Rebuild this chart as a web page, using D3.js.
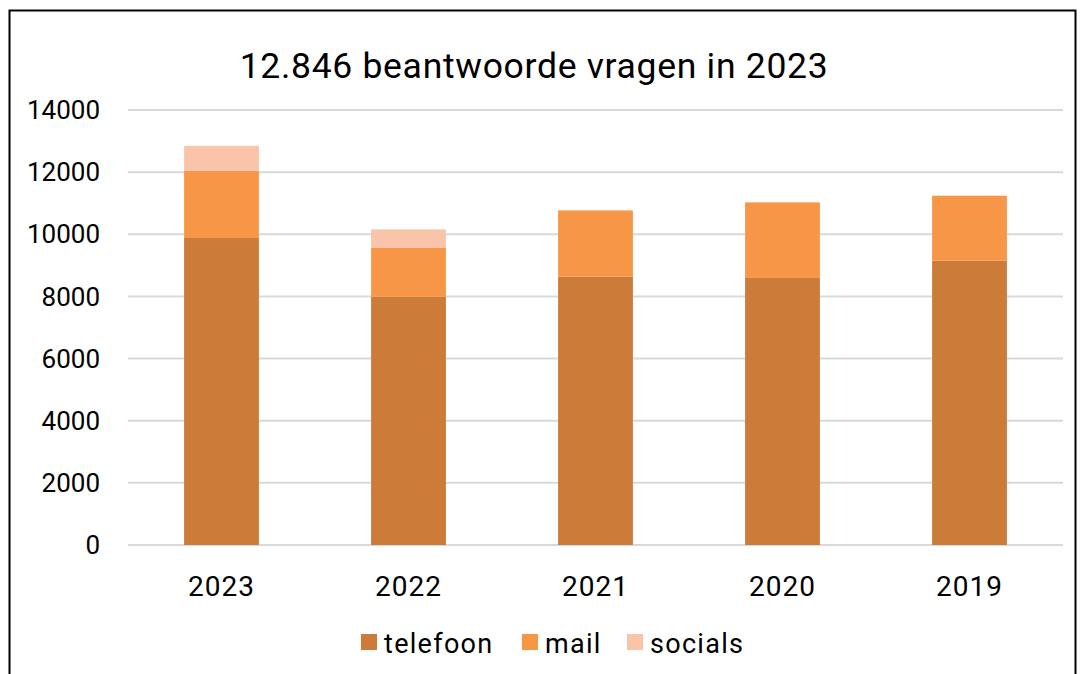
<!DOCTYPE html>
<html>
<head>
<meta charset="utf-8">
<script src="https://cdn.jsdelivr.net/npm/d3@7"></script>
<style>
  body { margin: 0; background: #fff; }
  svg { display: block; font-family: Roboto, "DejaVu Sans", sans-serif; }
</style>
</head>
<body>
<div class="container"></div>
<script>
// data
const years = ["2023", "2022", "2021", "2020", "2019"];
const telefoon = [9880, 7995, 8638, 8594, 9152];
const mail = [2155, 1563, 2131, 2433, 2090];
const socials = [811, 600, 0, 0, 0];
const seriesNames = ["telefoon", "mail", "socials"];
const seriesColors = ["#CC7B38", "#F79646", "#F9C4AA"];
const yTicks = [0, 2000, 4000, 6000, 8000, 10000, 12000, 14000];
const title = "12.846 beantwoorde vragen in 2023";

const width = 1080;
const height = 674;
const margin = { left: 128, right: 17, top: 110, bottom: 129 };

const svg = d3.select(".container")
  .append("svg")
  .attr("width", width)
  .attr("height", height);

// frame
svg.append("rect")
  .attr("x", 9.5)
  .attr("y", 10.5)
  .attr("width", 1066)
  .attr("height", 700)
  .attr("fill", "none")
  .attr("stroke", "#000")
  .attr("stroke-width", 2);

//scale
const x = d3.scaleBand()
  .domain(years)
  .range([margin.left, width - margin.right])
  .paddingInner(0.6)
  .paddingOuter(0.3);

const y = d3.scaleLinear()
  .domain([0, 14000])
  .range([height - margin.bottom, margin.top]);

// grid
svg.append("g")
  .selectAll("line")
  .data(yTicks)
  .join("line")
  .attr("x1", margin.left)
  .attr("x2", width - margin.right)
  .attr("y1", (d) => y(d))
  .attr("y2", (d) => y(d))
  .attr("stroke", "#d9d9d9")
  .attr("stroke-width", 2);

// y labels
svg.append("g")
  .selectAll("text")
  .data(yTicks)
  .join("text")
  .attr("x", 100)
  .attr("y", (d) => y(d))
  .attr("dy", "0.35em")
  .attr("text-anchor", "end")
  .attr("font-size", 26)
  .attr("fill", "#000")
  .text((d) => d);

// stacked bars
const rows = years.map((yr, i) => ({
  year: yr,
  telefoon: telefoon[i],
  mail: mail[i],
  socials: socials[i],
}));
const stack = d3.stack().keys(seriesNames)(rows);

svg.append("g")
  .selectAll("g")
  .data(stack)
  .join("g")
  .attr("fill", (d, i) => seriesColors[i])
  .selectAll("rect")
  .data((d) => d.filter((s) => s[1] > s[0]))
  .join("rect")
  .attr("x", (d) => x(d.data.year))
  .attr("width", x.bandwidth())
  .attr("y", (d) => y(d[1]))
  .attr("height", (d) => y(d[0]) - y(d[1]));

// x labels
svg.append("g")
  .selectAll("text")
  .data(years)
  .join("text")
  .attr("x", (d) => x(d) + x.bandwidth() / 2)
  .attr("y", 596)
  .attr("text-anchor", "middle")
  .attr("font-size", 28)
  .attr("letter-spacing", 1)
  .text((d) => d);

// title
svg.append("text")
  .attr("x", 534)
  .attr("y", 78)
  .attr("text-anchor", "middle")
  .attr("font-size", 35.5)
  .attr("letter-spacing", 0.7)
  .text(title);

// legend
const legendX = [361, 522, 627];
const lg = svg.append("g")
  .selectAll("g")
  .data(seriesNames)
  .join("g")
  .attr("transform", (d, i) => `translate(${legendX[i]},634)`);

lg.append("rect")
  .attr("width", 16)
  .attr("height", 16)
  .attr("fill", (d, i) => seriesColors[i]);

lg.append("text")
  .attr("x", 23)
  .attr("y", 19)
  .attr("font-size", 27)
  .attr("letter-spacing", 1.3)
  .text((d) => d);
</script>
</body>
</html>
